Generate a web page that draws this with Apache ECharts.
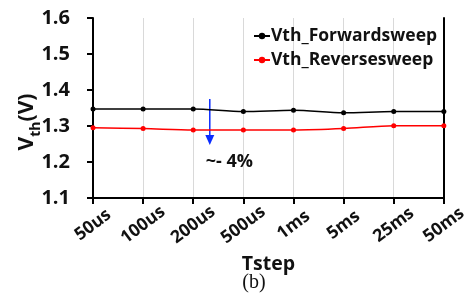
<!DOCTYPE html>
<html><head><meta charset="utf-8">
<script src="https://cdn.jsdelivr.net/npm/echarts@6/dist/echarts.min.js"></script>
<style>html,body{margin:0;padding:0;background:#fff}#c{width:470px;height:297px}</style>
</head><body><div id="c"></div>
<script>
const categories = ['50us','100us','200us','500us','1ms','5ms','25ms','50ms'];
const forward = [1.347,1.347,1.347,1.340,1.344,1.337,1.340,1.340];
const reverse = [1.295,1.293,1.289,1.289,1.289,1.293,1.301,1.301];
const yTicks = [1.1,1.2,1.3,1.4,1.5,1.6];
const F = '"Open Sans", "Noto Sans", sans-serif';
const chart = echarts.init(document.getElementById('c'), null, {renderer:'canvas'});
const yMin = yTicks[0], yMax = yTicks[yTicks.length-1];
const opt = {
  animation:false,
  grid:{left:93,right:22,top:18,bottom:99},
  legend:{
    orient:'vertical', left:248, top:22, itemGap:6, itemWidth:16, itemHeight:8,
    textStyle:{fontFamily:F,fontWeight:'bold',fontSize:17.5,color:'#111',padding:[0,0,0,-4]},
    data:['Vth_Forwardsweep','Vth_Reversesweep']
  },
  xAxis:{
    type:'category', data:categories, boundaryGap:false,
    axisLine:{lineStyle:{color:'#000',width:2}},
    axisTick:{show:true,length:6,lineStyle:{color:'#000',width:2}},
    splitLine:{show:true,lineStyle:{color:'#d9d9d9',width:1}},
    axisLabel:{rotate:37,fontFamily:F,fontWeight:'bold',fontSize:17.5,color:'#111',margin:27,
      align:'center',verticalAlign:'middle'},
    name:'Tstep', nameLocation:'middle', nameGap:41,
    nameTextStyle:{fontFamily:F,fontWeight:'bold',fontSize:19.5,color:'#111'}
  },
  yAxis:[{
    type:'value', min:yMin, max:yMax, interval:0.1,
    axisLine:{show:true,lineStyle:{color:'#000',width:2}},
    axisTick:{show:true,length:6,lineStyle:{color:'#000',width:2}},
    splitLine:{show:false}, axisLabel:{show:false}
  },{
    type:'value', min:yMin, max:yMax, interval:0.1, position:'right',
    axisLine:{show:true,lineStyle:{color:'#000',width:2}},
    axisTick:{show:false}, axisLabel:{show:false}, splitLine:{show:false}
  },{
    type:'value', min:yMin, max:yMax, interval:0.1, position:'left', offset:13,
    axisLine:{show:false}, axisTick:{show:false}, splitLine:{show:false},
    axisLabel:{fontFamily:F,fontWeight:'bold',fontSize:20,color:'#111',margin:10,
      formatter:v=>v.toFixed(1)}
  }],
  series:[
    {name:'Vth_Forwardsweep',type:'line',data:forward,smooth:0.3,symbol:'circle',symbolSize:5,
     itemStyle:{color:'#000'},lineStyle:{color:'#000',width:1.5}},
    {name:'Vth_Reversesweep',type:'line',data:reverse,smooth:0.3,symbol:'circle',symbolSize:5,
     itemStyle:{color:'#ff0000'},lineStyle:{color:'#ff0000',width:1.5}}
  ]
};
chart.setOption(opt);
const p2 = chart.convertToPixel({gridIndex:0},[2,1.375]);
const p3 = chart.convertToPixel({gridIndex:0},[3,1.247]);
const ax = p2[0] + (p3[0]-p2[0])*0.33;
const yTop = p2[1], yBot = p3[1];
const tp = chart.convertToPixel({gridIndex:0},[2,1.2]);
chart.setOption({graphic:[
  {type:'line',shape:{x1:ax,y1:yTop,x2:ax,y2:yBot-9},style:{stroke:'#0a2cff',lineWidth:1.5}},
  {type:'polygon',shape:{points:[[ax-4.5,yBot-10],[ax+4.5,yBot-10],[ax,yBot]]},style:{fill:'#0a2cff'}},
  {type:'text',x:ax-4,y:tp[1],style:{text:'~- 4%',font:'bold 18px '+F,fill:'#111',verticalAlign:'middle',align:'left'}},
  {type:'text',x:27,y:122,rotation:Math.PI/2,style:{
    text:'{a|V}{b|th}{a|(V)}',align:'center',verticalAlign:'middle',
    rich:{a:{font:'bold 21px '+F,fill:'#111'},b:{font:'bold 14px '+F,fill:'#111',verticalAlign:'bottom',padding:[0,0,-6,0]}}
  }},
  {type:'text',x:254,y:283,style:{text:'(b)',font:'20px "Liberation Serif", "DejaVu Serif", serif',fill:'#111',align:'center',verticalAlign:'middle'}}
]});
</script>
</body></html>
